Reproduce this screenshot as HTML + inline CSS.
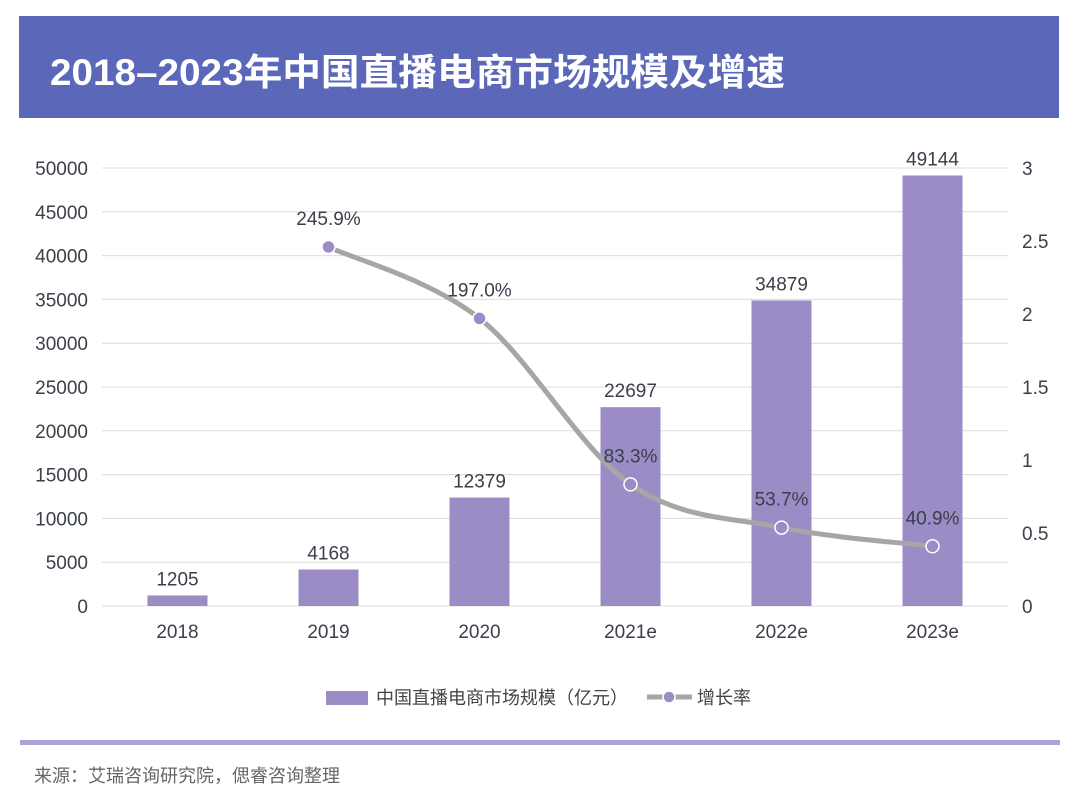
<!DOCTYPE html>
<html><head><meta charset="utf-8">
<style>
body{margin:0;width:1080px;height:804px;background:#fff;overflow:hidden;font-family:"Liberation Sans","Noto Sans CJK SC",sans-serif;}
</style></head>
<body>
<svg width="1080" height="804" xmlns="http://www.w3.org/2000/svg" style="position:absolute;left:0;top:0" id="chart">
<rect x="19" y="16" width="1040" height="102" fill="#5b68ba"/>
<text x="50" y="85" fill="#fff" font-size="37" font-weight="bold" textLength="735" lengthAdjust="spacingAndGlyphs" font-family="Liberation Sans, Noto Sans CJK SC, sans-serif">2018–2023年中国直播电商市场规模及增速</text>
<g id="grid"></g><g id="bars"></g><g id="line"></g><g id="labels"></g>
<g>
<rect x="326" y="691" width="42" height="14" fill="#9b8cc6"/>
<text x="376" y="704" font-size="18" fill="#444">中国直播电商市场规模（亿元）</text>
<line x1="647" y1="697" x2="692" y2="697" stroke="#a6a6a6" stroke-width="5"/>
<circle cx="669" cy="697" r="6" fill="#9b8cc6" stroke="#fff" stroke-width="1.5"/>
<text x="697" y="704" font-size="18" fill="#444">增长率</text>
</g>
<rect x="20" y="740" width="1040" height="5" fill="#a9a7d2"/>
<text x="34" y="782" font-size="18" fill="#666">来源：艾瑞咨询研究院，偲睿咨询整理</text>
</svg>
<script>
const categories=["2018","2019","2020","2021e","2022e","2023e"];
const sizes=[1205,4168,12379,22697,34879,49144];
const growth=[null,2.459,1.970,0.833,0.537,0.409];
const growthLabels=["","245.9%","197.0%","83.3%","53.7%","40.9%"];
const leftTicks=[0,5000,10000,15000,20000,25000,30000,35000,40000,45000,50000];
const rightTicks=["0","0.5","1","1.5","2","2.5","3"];
const NS="http://www.w3.org/2000/svg";
const X0=102,X1=1008,Y0=606,Y1=168;
const band=(X1-X0)/categories.length;
const xc=i=>X0+band*(i+0.5);
const yL=v=>Y0-(v/50000)*(Y0-Y1);
const yR=v=>Y0-(v/3)*(Y0-Y1);
function mk(t,a,p){const e=document.createElementNS(NS,t);for(const k in a)e.setAttribute(k,a[k]);p.appendChild(e);return e;}
const grid=document.getElementById('grid'),bars=document.getElementById('bars'),line=document.getElementById('line'),labels=document.getElementById('labels');
leftTicks.forEach(v=>{
 const l=mk('line',{x1:X0,x2:X1,y1:yL(v),y2:yL(v),stroke:'#dcdcdc','stroke-width':1},grid);
 
 
 const t=mk('text',{x:88,y:yL(v)+7,'text-anchor':'end','font-size':19,fill:'#3a3f4a'},grid);t.textContent=v;
 
 
});
rightTicks.forEach(s=>{
 const t=mk('text',{x:1022,y:yR(+s)+7,'font-size':19,fill:'#3a3f4a'},grid);t.textContent=s;
 
 
});
categories.forEach((c,i)=>{
 const t=mk('text',{x:xc(i),y:638,'text-anchor':'middle','font-size':19,fill:'#3a3f4a'},grid);t.textContent=c;
 
 
 const b=mk('rect',{x:xc(i)-30,y:yL(sizes[i]),width:60,height:Y0-yL(sizes[i]),fill:'#9b8cc6'},bars);
 
 
 const bl=mk('text',{x:xc(i),y:yL(sizes[i])-10,'text-anchor':'middle','font-size':19,fill:'#3a3f4a'},labels);bl.textContent=sizes[i];
 
 
});
const pts=[];growth.forEach((g,i)=>{if(g!=null)pts.push([xc(i),yR(g)]);});
let d='M'+pts[0][0]+','+pts[0][1];
for(let i=0;i<pts.length-1;i++){
 const p0=pts[i-1]||pts[i],p1=pts[i],p2=pts[i+1],p3=pts[i+2]||p2,k=6;
 d+=` C${p1[0]+(p2[0]-p0[0])/k},${p1[1]+(p2[1]-p0[1])/k} ${p2[0]-(p3[0]-p1[0])/k},${p2[1]-(p3[1]-p1[1])/k} ${p2[0]},${p2[1]}`;
}
const path=mk('path',{d:d,fill:'none',stroke:'#a6a6a6','stroke-width':5},line);


growth.forEach((g,i)=>{
 if(g==null)return;
 const c=mk('circle',{cx:xc(i),cy:yR(g),r:6.5,fill:'#9b8cc6',stroke:'#fff','stroke-width':1.5},line);
 
 
 const t=mk('text',{x:xc(i),y:yR(g)-22,'text-anchor':'middle','font-size':19,fill:'#3a3f4a'},labels);t.textContent=growthLabels[i];
 
 
});
</script>
</body></html>
